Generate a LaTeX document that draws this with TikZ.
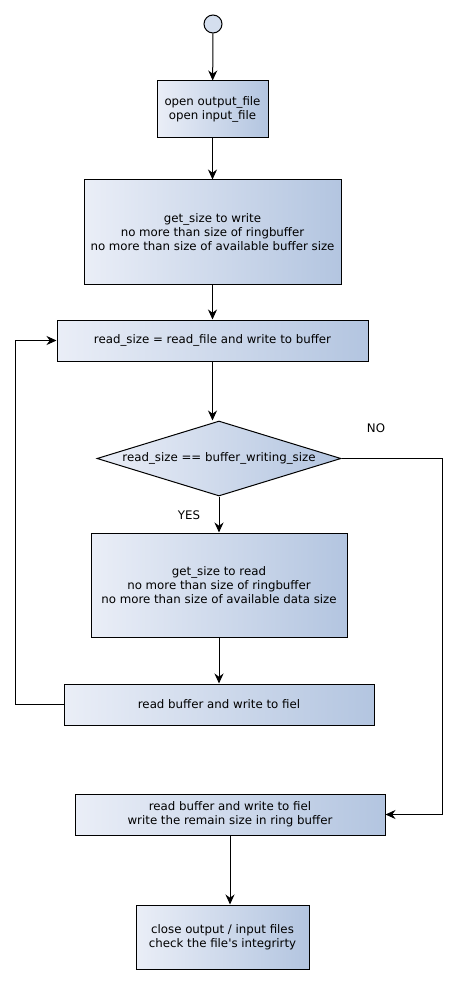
\documentclass[tikz,border=0pt]{standalone}
\usepackage{fontspec}
\setmainfont{DejaVu Sans}
\usetikzlibrary{shapes.geometric,arrows.meta}
\definecolor{boxleft}{HTML}{EAEEF7}
\definecolor{boxright}{HTML}{B3C5E0}
\begin{document}
\begin{tikzpicture}[x=1pt,y=-1pt,every node/.style={font=\fontsize{11.8}{14}\selectfont,align=center}]

\tikzstyle{block}=[draw,line width=1pt,inner sep=0pt,left color=boxleft,right color=boxright,shading angle=90];
\tikzstyle{decision}=[block,diamond,aspect=3.25,minimum width=244pt,minimum height=75pt];
\tikzstyle{start}=[circle,draw,line width=1pt,fill=boxleft!60!boxright,minimum size=18pt,inner sep=0pt];
\tikzstyle{lbl}=[inner sep=0pt];
\tikzstyle{flow}=[line width=1pt,-{Stealth[length=10pt,width=9pt]}];

\useasboundingbox (0,0) rectangle (458,984);

\node[start] (s) at (213,24) {};
\node[block,minimum width=111pt,minimum height=57pt] (open) at (212.5,109.5) {open output\_file\\open input\_file};
\node[block,minimum width=257pt,minimum height=104pt] (wsize) at (212.5,232) {get\_size to write\\no more than size of ringbuffer\\no more than size of available buffer size};
\node[block,minimum width=311pt,minimum height=41pt] (rfile) at (212.5,340.5) {read\_size = read\_file and write to buffer};
\node[decision] (cmp) at (219,458.5) {read\_size == buffer\_writing\_size};
\node[block,minimum width=256pt,minimum height=104pt] (rsize) at (219,585) {get\_size to read\\no more than size of ringbuffer\\no more than size of available data size};
\node[block,minimum width=310pt,minimum height=41pt] (rbuf) at (219,704.5) {read buffer and write to fiel};
\node[block,minimum width=310pt,minimum height=41pt] (rest) at (230,814.5) {read buffer and write to fiel\\write the remain size in ring buffer};
\node[block,minimum width=173pt,minimum height=64pt] (close) at (222.5,937) {close output / input files\\check the file\textquotesingle s integrirty};

\node[lbl] (yes) at (189,515) {YES};
\node[lbl] (no) at (376,428.5) {NO};

\coordinate (loop) at (15,704.5);
\coordinate (nocorner) at (442,458.5);

\draw[flow] (s) -- (open);
\draw[flow] (open) -- (wsize);
\draw[flow] (wsize) -- (rfile);
\draw[flow] (rfile.south) -- (rfile.south |- cmp.north);
\draw[flow] (cmp) -- (rsize);
\draw[flow] (rsize) -- (rbuf);
\draw[flow] (rbuf.west) -- (loop) |- (rfile.west);
\draw[flow] (cmp.east) -- (nocorner) |- (rest.east);
\draw[flow] (rest.south) -- (rest.south |- close.north);

\end{tikzpicture}
\end{document}
